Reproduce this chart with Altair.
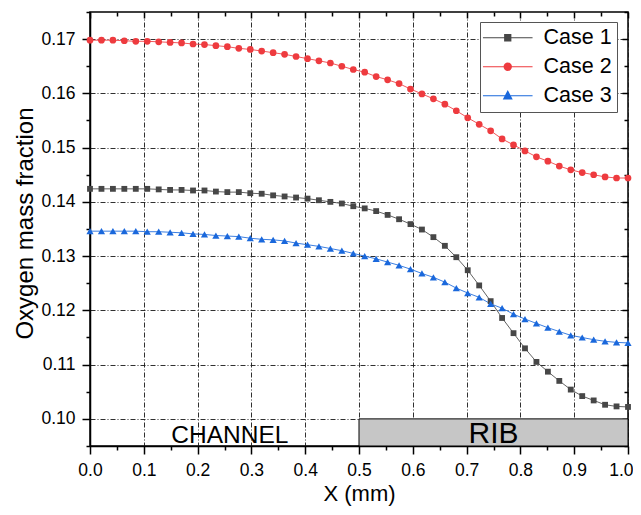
import altair as alt
import pandas as pd

# ---------------- data ----------------
x_mm = [0.0, 0.0213, 0.0426, 0.0638, 0.0851, 0.1064, 0.1277, 0.1489, 0.1702, 0.1915,
        0.2128, 0.2340, 0.2553, 0.2766, 0.2979, 0.3191, 0.3404, 0.3617, 0.3830, 0.4043,
        0.4255, 0.4468, 0.4681, 0.4894, 0.5106, 0.5319, 0.5532, 0.5745, 0.5957, 0.6170,
        0.6383, 0.6596, 0.6809, 0.7021, 0.7234, 0.7447, 0.7660, 0.7872, 0.8085, 0.8298,
        0.8511, 0.8723, 0.8936, 0.9149, 0.9362, 0.9574, 0.9787, 1.0]

case1 = [0.1424, 0.1424, 0.1424, 0.1424, 0.1424, 0.1424, 0.1423, 0.1422, 0.1422, 0.1421,
         0.1421, 0.1419, 0.1418, 0.1418, 0.1416, 0.1415, 0.1412, 0.1410, 0.1408, 0.1406,
         0.1403, 0.1400, 0.1397, 0.1392, 0.1388, 0.1383, 0.1376, 0.1368, 0.1359, 0.1349,
         0.1335, 0.1319, 0.1298, 0.1274, 0.1246, 0.1217, 0.1186, 0.1158, 0.1130, 0.1105,
         0.1087, 0.1070, 0.1054, 0.1042, 0.1034, 0.1026, 0.1023, 0.1022]

case2 = [0.1698, 0.1698, 0.1698, 0.1697, 0.1696, 0.1696, 0.1695, 0.1694, 0.1693, 0.1691,
         0.1690, 0.1688, 0.1686, 0.1683, 0.1681, 0.1678, 0.1675, 0.1672, 0.1668, 0.1664,
         0.1660, 0.1656, 0.1650, 0.1644, 0.1639, 0.1631, 0.1625, 0.1618, 0.1608, 0.1599,
         0.1590, 0.1580, 0.1568, 0.1555, 0.1543, 0.1531, 0.1516, 0.1505, 0.1494, 0.1483,
         0.1475, 0.1466, 0.1459, 0.1454, 0.1450, 0.1446, 0.1444, 0.1444]

case3 = [0.1346, 0.1346, 0.1346, 0.1346, 0.1346, 0.1345, 0.1345, 0.1344, 0.1343, 0.1341,
         0.1340, 0.1338, 0.1337, 0.1336, 0.1333, 0.1331, 0.1330, 0.1328, 0.1324, 0.1321,
         0.1318, 0.1314, 0.1310, 0.1305, 0.1300, 0.1295, 0.1289, 0.1283, 0.1276, 0.1268,
         0.1261, 0.1252, 0.1241, 0.1232, 0.1224, 0.1212, 0.1204, 0.1193, 0.1184, 0.1176,
         0.1168, 0.1161, 0.1154, 0.1150, 0.1146, 0.1143, 0.1141, 0.1140]

case_names = ["Case 1", "Case 2", "Case 3"]
x_ticks = [0.0, 0.05, 0.1, 0.15, 0.2, 0.25, 0.3, 0.35, 0.4, 0.45, 0.5,
           0.55, 0.6, 0.65, 0.7, 0.75, 0.8, 0.85, 0.9, 0.95, 1.0]
y_ticks = [0.095, 0.100, 0.105, 0.110, 0.115, 0.120, 0.125, 0.130, 0.135,
           0.140, 0.145, 0.150, 0.155, 0.160, 0.165, 0.170, 0.175]
x_domain = [0.0, 1.0]
y_domain = [0.095, 0.175]
rib_x = [0.5, 1.0]
rib_y = [0.095, 0.100]
channel_label = ["CHANNEL"]
channel_pos = [0.26, 0.0955]
rib_label = ["RIB"]
rib_pos = [0.75, 0.0955]

# ---------------- styling ----------------
W, H = 538, 434
FONT = "Liberation Sans"
case_colors = ["#474747", "#ee3b3f", "#1a68dc"]
marker_shapes = ["square", "circle", "triangle-up"]
marker_sizes = [34, 45, 52]


def square_path(a_list):
    return "".join(f"M{-a},{-a}H{a}V{a}H{-a}Z" for a in a_list)


def circle_path(r_list):
    return "".join(f"M{-r},0A{r},{r} 0 1,0 {r},0A{r},{r} 0 1,0 {-r},0" for r in r_list)


def tri_path(s_list):
    return "".join(f"M0,{-0.55*s:.3f}L{0.5*s:.3f},{0.4*s:.3f}L{-0.5*s:.3f},{0.4*s:.3f}Z" for s in s_list)


seg = "M-3.1,0H3.1"
legend_paths = [
    seg + square_path([0.38, 0.26, 0.14, 0.03]),
    seg + circle_path([0.45, 0.31, 0.17, 0.04]),
    seg + tri_path([1.0, 0.7, 0.4, 0.1]),
]

rows = []
for name, vals in zip(case_names, [case1, case2, case3]):
    for xv, yv in zip(x_mm, vals):
        rows.append({"x": xv, "v": yv, "case": name})
df = pd.DataFrame(rows)

xs = alt.Scale(domain=x_domain, nice=False, zero=False)
ys = alt.Scale(domain=y_domain, nice=False, zero=False)
color_scale = alt.Scale(domain=case_names, range=case_colors)

major_x = "round(datum.value*20) % 2 == 0"
major_y = "round(datum.value*200) % 2 == 0"
last_x = "datum.value >= 0.999"

main_x_axis = alt.Axis(
    orient="bottom", values=x_ticks, title="X (mm)",
    labelExpr=f"{major_x} ? format(datum.value, '.1f') : ''",
    labelFont=FONT, labelFontSize=17.5, labelColor="black", labelPadding=7,
    labelOverlap=False, labelFlush=False,
    labelAlign={"condition": {"test": last_x, "value": "right"}, "value": "center"},
    labelOffset={"condition": {"test": last_x, "value": 5}, "value": 0},
    tickSize={"condition": {"test": major_x, "value": 8}, "value": 4},
    tickColor="black", tickWidth=1.5, domainColor="black", domainWidth=1.5,
    grid=True, gridColor="#1a1a1a", gridDash=[5, 2, 1, 2], gridWidth=1,
    gridOpacity={"condition": {"test": major_x, "value": 0.9}, "value": 0},
    titleFont=FONT, titleFontSize=22, titleFontWeight="normal", titleColor="black",
    titleY=54, titleBaseline="alphabetic",
)
main_y_axis = alt.Axis(
    orient="left", values=y_ticks, title="Oxygen mass fraction",
    labelExpr=f"{major_y} ? format(datum.value, '.2f') : ''",
    labelFont=FONT, labelFontSize=17.5, labelColor="black", labelPadding=7,
    labelOverlap=False, labelFlush=False,
    tickSize={"condition": {"test": major_y, "value": 8}, "value": 4},
    tickColor="black", tickWidth=1.5, domainColor="black", domainWidth=1.5,
    grid=True, gridColor="#1a1a1a", gridDash=[5, 2, 1, 2], gridWidth=1,
    gridOpacity={"condition": {"test": major_y, "value": 0.9}, "value": 0},
    titleFont=FONT, titleFontSize=24, titleFontWeight="normal", titleColor="black",
    titleAngle=270, titleX=-58, titleY=211, titleBaseline="alphabetic",
)
top_x_axis = alt.Axis(
    orient="bottom", offset=-H, values=x_ticks, labels=False, title=None,
    grid=False, domain=False,
    tickSize={"condition": {"test": major_x, "value": 6}, "value": 4},
    tickColor="black", tickWidth=1.5,
)
right_y_axis = alt.Axis(
    orient="left", offset=-W, values=y_ticks, labels=False, title=None,
    grid=False, domain=False,
    tickSize={"condition": {"test": major_y, "value": 6}, "value": 4},
    tickColor="black", tickWidth=1.5,
)

# ---------------- layers ----------------
rib_df = pd.DataFrame({"x": [rib_x[0]], "x2": [rib_x[1]], "y": [rib_y[0]], "y2": [rib_y[1]]})
rib = alt.Chart(rib_df).mark_rect(fill="#c6c6c6", stroke="black", strokeWidth=1).encode(
    x=alt.X("x:Q", scale=xs, axis=top_x_axis), x2="x2:Q",
    y=alt.Y("y:Q", scale=ys, axis=right_y_axis), y2="y2:Q",
)

line_layers = []
point_layers = []
for i, (name, col, shp, sz) in enumerate(zip(case_names, case_colors, marker_shapes, marker_sizes)):
    sub = df[df["case"] == name]
    line_layers.append(
        alt.Chart(sub).mark_line(strokeWidth=1, color=col, opacity=0.85).encode(
            x=alt.X("x:Q", scale=xs, axis=main_x_axis if i == 0 else None),
            y=alt.Y("v:Q", scale=ys, axis=main_y_axis if i == 0 else None),
        )
    )
    point_layers.append(
        alt.Chart(sub).mark_point(filled=True, shape=shp, size=sz, color=col, opacity=1).encode(
            x=alt.X("x:Q", scale=xs, axis=None),
            y=alt.Y("v:Q", scale=ys, axis=None),
        )
    )

leg = alt.Legend(
    title=None, orient="none", legendX=390, legendY=10,
    symbolSize=256, symbolStrokeWidth=1.2, symbolOffset=12, labelOffset=25,
    labelFont=FONT, labelFontSize=21.5, labelColor="black", rowPadding=6, padding=5,
    strokeColor="#555555", fillColor="white", symbolOpacity=1,
)
# helper layer that only feeds the legend: its points sit outside the x domain and are clipped away
ghost = alt.Chart(df).transform_calculate(xg="datum.x - 5").mark_point(filled=False, clip=True).encode(
    x=alt.X("xg:Q", scale=xs, axis=None),
    y=alt.Y("v:Q", scale=ys, axis=None),
    color=alt.Color("case:N", scale=color_scale, legend=leg),
    shape=alt.Shape("case:N", scale=alt.Scale(domain=case_names, range=legend_paths), legend=leg),
)

chan_df = pd.DataFrame({"t": channel_label, "x": [channel_pos[0]], "y": [channel_pos[1]]})
chan_text = alt.Chart(chan_df).mark_text(font=FONT, fontSize=24.5, color="black", baseline="alphabetic", align="center").encode(
    x=alt.X("x:Q", scale=xs, axis=None), y=alt.Y("y:Q", scale=ys, axis=None), text="t:N")
rib_df_t = pd.DataFrame({"t": rib_label, "x": [rib_pos[0]], "y": [rib_pos[1]]})
rib_text = alt.Chart(rib_df_t).mark_text(font=FONT, fontSize=30, color="black", baseline="alphabetic", align="center").encode(
    x=alt.X("x:Q", scale=xs, axis=None), y=alt.Y("y:Q", scale=ys, axis=None), text="t:N")

chart = alt.layer(*line_layers, rib, *point_layers, ghost, chan_text, rib_text).resolve_axis(
    x="independent", y="independent"
).properties(
    width=W, height=H,
    autosize=alt.AutoSizeParams(type="none"),
    padding={"left": 82, "top": 4, "right": 5, "bottom": 61},
).configure(font=FONT).configure_view(
    stroke="black", strokeWidth=1.5
).configure_legend(labelFontSize=21.5, labelFont=FONT, labelColor="black")

chart.save("out.html", embed_options={"renderer": "svg", "actions": False})
